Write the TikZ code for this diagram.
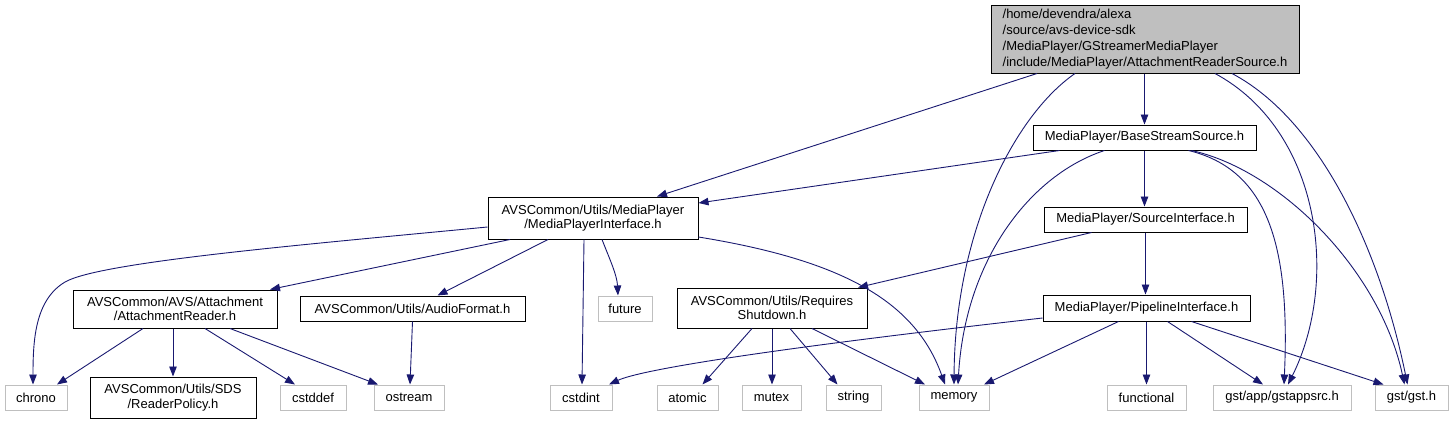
\documentclass[tikz,border=0pt]{standalone}
\usepackage{fontspec}
\setmainfont{Liberation Sans}
\usetikzlibrary{arrows.meta}
\definecolor{edgeblue}{HTML}{191970}
\definecolor{sysgray}{HTML}{BFBFBF}
\begin{document}
\begin{tikzpicture}[x=1pt,y=-1pt,
  every node/.style={font=\fontsize{13}{14.5}\selectfont, inner sep=0pt, align=center},
  hdr/.style={draw=black, line width=1pt, fill=white},
  sys/.style={draw=sysgray, line width=1pt, fill=white},
  dep/.style={draw=edgeblue, line width=0.9pt, -{Triangle[length=10pt,width=7.5pt]}}]
\useasboundingbox (0,0) rectangle (1454,424);
% nodes
\node[hdr, fill=sysgray, minimum width=308, minimum height=68, align=left,
  font=\fontsize{13}{16}\selectfont] (main) at (1145,39)
  {/home/devendra/alexa\\/source/avs-device-sdk\\/MediaPlayer/GStreamerMediaPlayer\\/include/MediaPlayer/AttachmentReaderSource.h};
\node[hdr, minimum width=223, minimum height=25] (bss) at (1144.5,137.5) {MediaPlayer/BaseStreamSource.h};
\node[hdr, minimum width=203, minimum height=25] (si) at (1145.5,219.5) {MediaPlayer/SourceInterface.h};
\node[hdr, minimum width=210, minimum height=42] (mpi) at (593,218) {AVSCommon/Utils/MediaPlayer\\/MediaPlayerInterface.h};
\node[hdr, minimum width=204, minimum height=38] (ar) at (175,309) {AVSCommon/AVS/Attachment\\/AttachmentReader.h};
\node[hdr, minimum width=225, minimum height=25] (af) at (412.5,308.5) {AVSCommon/Utils/AudioFormat.h};
\node[sys, minimum width=54, minimum height=25] (future) at (625,308.5) {future};
\node[hdr, minimum width=190, minimum height=40] (rs) at (772,308) {AVSCommon/Utils/Requires\\Shutdown.h};
\node[hdr, minimum width=207, minimum height=26] (pi) at (1146.5,308) {MediaPlayer/PipelineInterface.h};
\node[sys, minimum width=62, minimum height=25] (chrono) at (36,397.5) {chrono};
\node[hdr, minimum width=166, minimum height=41] (rp) at (173,397.5) {AVSCommon/Utils/SDS\\/ReaderPolicy.h};
\node[sys, minimum width=66, minimum height=25] (cstddef) at (313,397.5) {cstddef};
\node[sys, minimum width=70, minimum height=25] (ostream) at (409,397.5) {ostream};
\node[sys, minimum width=62, minimum height=25] (cstdint) at (581,397.5) {cstdint};
\node[sys, minimum width=61, minimum height=25] (atomic) at (687.5,397.5) {atomic};
\node[sys, minimum width=59, minimum height=25] (mutex) at (771.5,397.5) {mutex};
\node[sys, minimum width=55, minimum height=25] (string) at (853.5,397.5) {string};
\node[sys, minimum width=70, minimum height=25] (memory) at (954,397.5) {memory};
\node[sys, minimum width=79, minimum height=25] (functional) at (1146.5,397.5) {functional};
\node[sys, minimum width=138, minimum height=25] (gstappsrc) at (1282,397.5) {gst/app/gstappsrc.h};
\node[sys, minimum width=73, minimum height=25] (gsth) at (1411.5,397.5) {gst/gst.h};
% edges from main
\draw[dep] ([xshift=-108pt]main.south) -- ([xshift=64pt]mpi.north);
\draw[dep] ([xshift=-70pt]main.south) .. controls (1015,115) and (955,230) .. (memory.north);
\draw[dep] (bss.north |- main.south) -- (bss.north);
\draw[dep] ([xshift=70pt]main.south) .. controls (1320,130) and (1340,280) .. ([xshift=6pt]gstappsrc.north);
\draw[dep] ([xshift=87pt]main.south) .. controls (1320,120) and (1380,250) .. ([xshift=-4pt]gsth.north);
% edges from bss
\draw[dep] ([xshift=-85pt]bss.south) -- ([yshift=15pt]mpi.east);
\draw[dep] ([xshift=-40pt]bss.south) .. controls (1030,175) and (965,260) .. ([xshift=4pt]memory.north);
\draw[dep] (bss.south) -- (bss.south |- si.north);
\draw[dep] ([xshift=44pt]bss.south) .. controls (1270,170) and (1290,250) .. ([xshift=2pt]gstappsrc.north);
\draw[dep] ([xshift=47pt]bss.south) .. controls (1280,170) and (1380,270) .. ([xshift=-7pt]gsth.north);
% edges from si
\draw[dep] ([xshift=-54pt]si.south) -- ([xshift=86pt]rs.north);
\draw[dep] (si.south) -- (si.south |- pi.north);
% edges from pi
\draw[dep] ([yshift=-10pt]pi.west) .. controls (760,350) and (640,370) .. ([xshift=28pt]cstdint.north);
\draw[dep] ([xshift=-28pt]pi.south) -- ([xshift=30pt]memory.north);
\draw[dep] (pi.south) -- (pi.south |- functional.north);
\draw[dep] ([xshift=21pt]pi.south) -- ([xshift=-19pt]gstappsrc.north);
\draw[dep] ([xshift=45pt]pi.south) -- ([xshift=-28pt]gsth.north);
% edges from mpi
\draw[dep] ([yshift=-9pt]mpi.west) .. controls (300,245) and (100,262) .. (65,282) .. controls (35,300) and (33,340) .. ([xshift=-3pt]chrono.north);
\draw[dep] ([xshift=-83pt]mpi.south) -- ([xshift=95pt]ar.north);
\draw[dep] ([xshift=-45pt]mpi.south) -- ([xshift=25pt]af.north);
\draw[dep] ([xshift=-9pt]mpi.south) -- ([xshift=1pt]cstdint.north);
\draw[dep] ([xshift=9pt]mpi.south) .. controls (610,260) and (617,275) .. ([xshift=-7pt]future.north);
\draw[dep] ([yshift=-19pt]mpi.east) .. controls (840,260) and (915,300) .. ([xshift=-9pt]memory.north);
% edges from ar
\draw[dep] ([xshift=-32pt]ar.south) -- ([xshift=21pt]chrono.north);
\draw[dep] (rp.north |- ar.south) -- (rp.north);
\draw[dep] ([xshift=30pt]ar.south) -- ([xshift=-18pt]cstddef.north);
\draw[dep] ([xshift=55pt]ar.south) -- ([xshift=-31pt]ostream.north);
% edges from af
\draw[dep] (af.south) -- ([xshift=1pt]ostream.north);
% edges from rs
\draw[dep] ([xshift=-20pt]rs.south) -- ([xshift=15pt]atomic.north);
\draw[dep] (rs.south) -- (rs.south |- mutex.north);
\draw[dep] ([xshift=18pt]rs.south) -- ([xshift=-16pt]string.north);
\draw[dep] ([xshift=40pt]rs.south) -- ([xshift=-29pt]memory.north);
\end{tikzpicture}
\end{document}
